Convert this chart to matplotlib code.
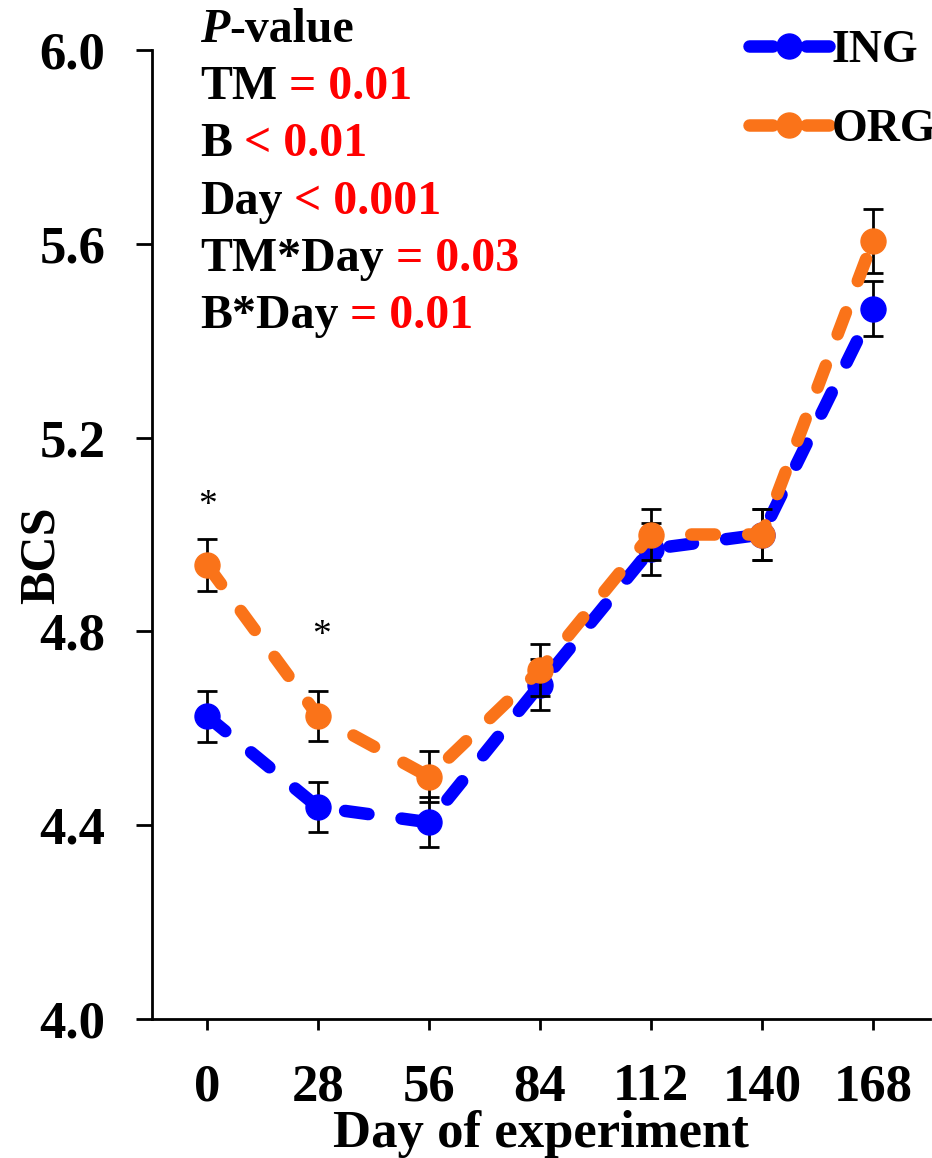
import matplotlib
matplotlib.use("Agg")
import matplotlib.pyplot as plt

# 数据
days = [0, 28, 56, 84, 112, 140, 168]
ing_bcs = [4.625, 4.437, 4.406, 4.69, 4.97, 5.0, 5.466]
org_bcs = [4.937, 4.625, 4.50, 4.72, 5.0, 5.0, 5.606]
ing_se = [0.053, 0.052, 0.052, 0.053, 0.053, 0.053, 0.057]
org_se = [0.053, 0.052, 0.053, 0.053, 0.053, 0.053, 0.066]
y_ticks = [4.0, 4.4, 4.8, 5.2, 5.6, 6.0]

# 显著性标记
star_days = [0, 29]
star_y = [5.06, 4.79]

# P 值说明（黑色部分，红色部分）
p_lines = [("TM", " = 0.01"),
           ("B", " < 0.01"),
           ("Day", " < 0.001"),
           ("TM*Day", " = 0.03"),
           ("B*Day", " = 0.01")]

plt.rcParams['font.family'] = ['Liberation Serif', 'DejaVu Serif']
plt.rcParams['font.weight'] = 'bold'
plt.rcParams['lines.scale_dashes'] = False

fig = plt.figure(figsize=(9.32, 11.58), dpi=100)
ax = fig.add_axes([152/932, 1 - 1019/1158, 778/932, 969/1158])

lw = 9
ms = 18
dash = (17, 24)

ax.errorbar(days, ing_bcs, yerr=ing_se, fmt='none', ecolor='k',
            elinewidth=2, capsize=7, capthick=2, zorder=1)
ax.plot(days, ing_bcs, color='#0000FF', lw=lw, ls='--', dashes=dash,
        dash_capstyle='round', marker='o', ms=ms, label='ING', zorder=2)
ax.errorbar(days, org_bcs, yerr=org_se, fmt='none', ecolor='k',
            elinewidth=2, capsize=7, capthick=2, zorder=3)
ax.plot(days, org_bcs, color='#FA7319', lw=lw, ls='--', dashes=dash,
        dash_capstyle='round', marker='o', ms=ms, label='ORG', zorder=4)

for d, y in zip(star_days, star_y):
    ax.text(d, y, '*', ha='center', va='center', fontsize=27,
            fontweight='normal')

ax.set_xlim(-13.9, 182.4)
ax.set_ylim(4.0, 6.0)
ax.set_xticks(days)
ax.set_xticklabels([str(d) for d in days])
ax.set_yticks(y_ticks)
ax.set_yticklabels(['%.1f' % v for v in y_ticks])

for s in ['top', 'right']:
    ax.spines[s].set_visible(False)
for s in ['left', 'bottom']:
    ax.spines[s].set_linewidth(2)

ax.tick_params(axis='x', length=8, width=2, pad=24, labelsize=38)
ax.tick_params(axis='y', length=11.5, width=2, pad=22, labelsize=38)

ax.set_xlabel('Day of experiment', fontsize=38, fontweight='bold')
ax.xaxis.set_label_coords(0.5, -0.094)
ax.set_ylabel('BCS', fontsize=36, fontweight='bold')
ax.yaxis.set_label_coords(-0.112, 0.479)

# P 值文字
fs_p = 34.5
tx = 200/932
t0 = fig.text(tx, 1 - 42/1158, 'P', fontsize=fs_p, fontweight='bold',
              fontstyle='italic', va='baseline')
ax.annotate('-value', xy=(1, 0), xycoords=t0, va='bottom', ha='left',
            fontsize=fs_p, fontweight='bold', annotation_clip=False)
for i, (black, red) in enumerate(p_lines):
    yb = 1 - (99 + i * 57.3) / 1158
    t1 = fig.text(tx, yb, black, fontsize=fs_p, fontweight='bold',
                  va='baseline')
    ax.annotate(red, xy=(1, 0), xycoords=t1, va='bottom', ha='left',
                fontsize=fs_p, fontweight='bold', color='#FF0000',
                annotation_clip=False)

leg = fig.legend(loc='upper left', bbox_to_anchor=(749/932, 1 - 30/1158),
                 frameon=False, fontsize=33, handlelength=1.75,
                 handletextpad=0.05, labelspacing=0.8, borderpad=0,
                 borderaxespad=0)

fig.savefig('out.png', dpi=100)
